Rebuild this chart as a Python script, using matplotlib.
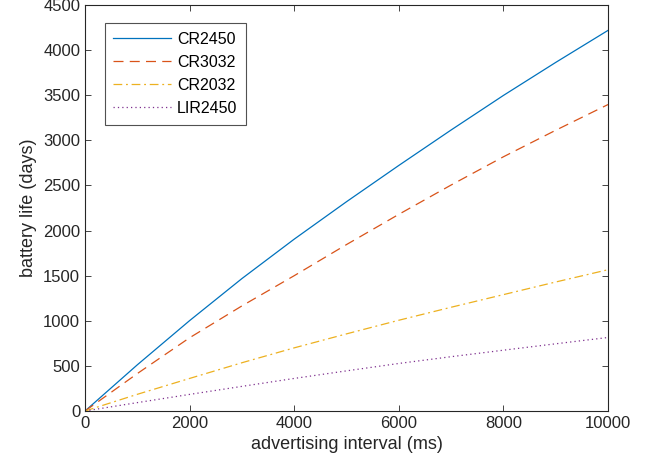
import matplotlib
matplotlib.use("Agg")
import matplotlib.pyplot as plt

plt.rcParams["font.family"] = ["Liberation Sans", "DejaVu Sans"]

# advertising interval (ms) and battery life (days)
interval = [0, 1000, 2000, 3000, 4000, 5000, 6000, 7000, 8000, 9000, 10000]
cr2450 = [0, 512, 1002, 1468, 1905, 2320, 2722, 3115, 3498, 3864, 4219]
cr3032 = [0, 415, 812, 1165, 1500, 1845, 2180, 2505, 2818, 3112, 3397]
cr2032 = [0, 185, 361, 535, 700, 855, 1006, 1150, 1290, 1430, 1566]
lir2450 = [0, 93, 184, 273, 361, 445, 527, 602, 674, 745, 815]

fig = plt.figure(figsize=(6.51, 4.74), dpi=100)
ax = fig.add_axes([0.1306, 0.1329, 0.8034, 0.8565])

ax.plot(interval, cr2450, color="#0072BD", lw=0.9, ls="-", label="CR2450")
ax.plot(interval, cr3032, color="#D95319", lw=0.9, ls=(0, (8, 5)), label="CR3032")
ax.plot(interval, cr2032, color="#EDB120", lw=0.9, ls=(0, (7, 3, 1.5, 3)), label="CR2032")
ax.plot(interval, lir2450, color="#7E2F8E", lw=0.9, ls=(0, (1, 2.5)), label="LIR2450")

ax.set_xlim(0, 10000)
ax.set_ylim(0, 4500)
ax.set_xticks(range(0, 10001, 2000))
ax.set_yticks(range(0, 4501, 500))
ax.tick_params(direction="in", top=True, right=True, labelsize=12, colors="#262626",
               length=4, width=0.6)
for s in ax.spines.values():
    s.set_linewidth(0.8)
    s.set_color("#262626")

ax.set_xlabel("advertising interval (ms)", fontsize=13, color="#262626")
ax.set_ylabel("battery life (days)", fontsize=13, color="#262626")

leg = ax.legend(loc="upper left", bbox_to_anchor=(0.022, 0.975), fontsize=11.5,
                frameon=True, fancybox=False, edgecolor="#262626", handlelength=3.6,
                borderpad=0.55, labelspacing=0.5, handletextpad=0.4)
leg.get_frame().set_linewidth(0.8)

fig.savefig("out.png", dpi=100)
